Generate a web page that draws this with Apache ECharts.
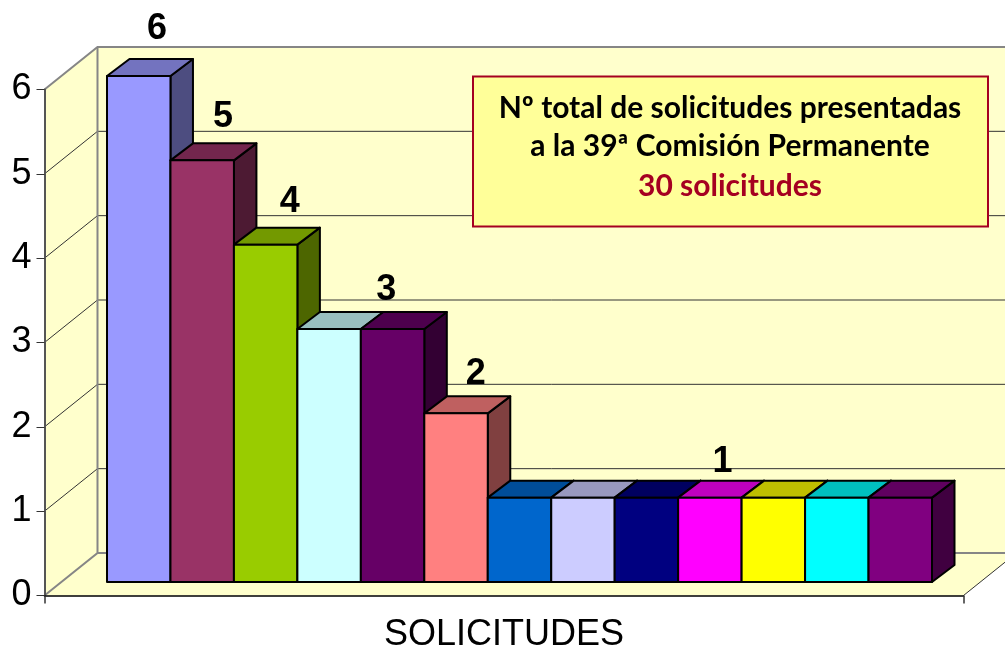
<!DOCTYPE html>
<html>
<head>
<meta charset="utf-8">
<title>Solicitudes</title>
<script src="https://cdn.jsdelivr.net/npm/echarts@6/dist/echarts.min.js"></script>
<style>
html, body { margin: 0; padding: 0; background: #fff; }
#main { width: 1005px; height: 648px; }
</style>
</head>
<body>
<div id="main"></div>
<script>
var categories = ['SOLICITUDES'];
var barValues = [6, 5, 4, 3, 3, 2, 1, 1, 1, 1, 1, 1, 1];
var barColors = ['#9999FF', '#993366', '#99CC00', '#CCFFFF', '#660066', '#FF8080', '#0066CC',
    '#CCCCFF', '#000080', '#FF00FF', '#FFFF00', '#00FFFF', '#800080'];
var yTicks = [0, 1, 2, 3, 4, 5, 6];
var labelValues = [6, 5, 4, 3, 2, 1];
var boxLines = ['Nº total de solicitudes presentadas', 'a la 39ª Comisión Permanente', '30 solicitudes'];

// label placement: position along the bar row (in bar widths) and lift above the bar front, px
var labelSlots = [0.79, 1.83, 2.88, 4.4, 5.81, 9.7];
var labelLift = [47, 43.5, 43, 39, 39.5, 36];

// 3d look: how far the walls and the bars go back
var WALL_DX = 53, WALL_DY = -42.5;
var BAR_DX = 22.5, BAR_DY = -17;

function shade(hex, k) {
    var n = parseInt(hex.slice(1), 16);
    var r = Math.round((n >> 16 & 255) * k);
    var g = Math.round((n >> 8 & 255) * k);
    var b = Math.round((n & 255) * k);
    return 'rgb(' + r + ',' + g + ',' + b + ')';
}

function renderWalls(params, api) {
    var box = params.coordSys;
    var l = box.x, r = box.x + box.width;
    var y0 = api.coord([categories[0], 0])[1];
    var y6 = api.coord([categories[0], 6])[1];
    var fill = { fill: '#FFFFCC', stroke: null };
    var border = { stroke: '#868686', lineWidth: 2, fill: null };
    var items = [
        { type: 'polygon', shape: { points: [[l + WALL_DX, y0 + WALL_DY], [r + WALL_DX, y0 + WALL_DY], [r + WALL_DX, y6 + WALL_DY], [l + WALL_DX, y6 + WALL_DY]] }, style: fill },
        { type: 'polygon', shape: { points: [[l, y0], [l + WALL_DX, y0 + WALL_DY], [l + WALL_DX, y6 + WALL_DY], [l, y6]] }, style: fill },
        { type: 'polygon', shape: { points: [[l, y0], [r, y0], [r + WALL_DX, y0 + WALL_DY], [l + WALL_DX, y0 + WALL_DY]] }, style: fill }
    ];
    yTicks.slice(1, 6).forEach(function (t) {
        var y = api.coord([categories[0], t])[1];
        items.push({ type: 'polyline', shape: { points: [[l, y], [l + WALL_DX, y + WALL_DY], [r + WALL_DX, y + WALL_DY]] }, style: { stroke: '#333', lineWidth: 1, fill: null } });
    });
    // outline of the walls
    items.push({ type: 'polyline', shape: { points: [[l, y6], [l + WALL_DX, y6 + WALL_DY], [r + WALL_DX, y6 + WALL_DY]] }, style: border });
    items.push({ type: 'polyline', shape: { points: [[l, y0], [l + WALL_DX, y0 + WALL_DY], [l + WALL_DX, y6 + WALL_DY]] }, style: border });
    items.push({ type: 'line', shape: { x1: l + WALL_DX, y1: y0 + WALL_DY, x2: r + WALL_DX, y2: y0 + WALL_DY }, style: border });
    items.push({ type: 'line', shape: { x1: r, y1: y0, x2: r + WALL_DX, y2: y0 + WALL_DY }, style: { stroke: '#333', lineWidth: 1 } });
    return { type: 'group', children: items };
}

function renderBar(params, api) {
    var i = api.value(0);
    var a = api.coord([i, api.value(1)]);
    var b = api.coord([i + 1, 0]);
    var line = { stroke: '#000', lineWidth: 2, lineJoin: 'round' };
    var color = barColors[i];
    return {
        type: 'group',
        children: [
            { type: 'polygon', shape: { points: [[b[0], a[1]], [b[0] + BAR_DX, a[1] + BAR_DY], [b[0] + BAR_DX, b[1] + BAR_DY], [b[0], b[1]]] }, style: Object.assign({ fill: shade(color, 0.5) }, line) },
            { type: 'polygon', shape: { points: [[a[0], a[1]], [a[0] + BAR_DX, a[1] + BAR_DY], [b[0] + BAR_DX, a[1] + BAR_DY], [b[0], a[1]]] }, style: Object.assign({ fill: shade(color, 0.75) }, line) },
            { type: 'rect', shape: { x: a[0], y: a[1], width: b[0] - a[0], height: b[1] - a[1] }, style: Object.assign({ fill: color }, line) }
        ]
    };
}

function renderLabel(params, api) {
    var i = params.dataIndex;
    var p = api.coord([api.value(0), api.value(1)]);
    return {
        type: 'text',
        x: p[0],
        y: p[1] - labelLift[i],
        style: {
            text: String(api.value(1)),
            font: 'bold 36px "Liberation Sans", Arial, sans-serif',
            fill: '#000',
            align: 'center',
            verticalAlign: 'middle'
        }
    };
}

var myChart = echarts.init(document.getElementById('main'), null, { renderer: 'canvas' });

var option = {
    animation: false,
    backgroundColor: '#fff',
    grid: [
        { left: 44.5, top: 89.5, width: 919, height: 506, outerBoundsMode: 'none' },
        { left: 107, top: 76, width: 825, height: 506, outerBoundsMode: 'none' }
    ],
    xAxis: [
        {
            type: 'category',
            gridIndex: 0,
            data: categories,
            z: 5,
            axisLine: { lineStyle: { color: '#000', width: 1.5 } },
            axisTick: { show: true, length: 8, alignWithLabel: false, lineStyle: { color: '#333', width: 1.5 } },
            axisLabel: { fontFamily: 'Liberation Sans', fontSize: 36, color: '#000', margin: 22 }
        },
        { type: 'value', gridIndex: 1, min: 0, max: barValues.length, show: false }
    ],
    yAxis: [
        {
            type: 'value',
            gridIndex: 0,
            min: 0,
            max: 6,
            interval: 1,
            z: 5,
            axisLine: { show: true, lineStyle: { color: '#555', width: 2 } },
            axisTick: { show: true, length: 8, lineStyle: { color: '#333', width: 1 } },
            axisLabel: { fontFamily: 'Liberation Sans', fontSize: 36, color: '#000', margin: 13, padding: [3, 0, 0, 0] },
            splitLine: { show: false }
        },
        { type: 'value', gridIndex: 1, min: 0, max: 6, show: false }
    ],
    series: [
        {
            type: 'custom',
            xAxisIndex: 0,
            yAxisIndex: 0,
            z: 1,
            clip: false,
            silent: true,
            data: [[categories[0], 0]],
            renderItem: renderWalls
        },
        {
            type: 'custom',
            xAxisIndex: 1,
            yAxisIndex: 1,
            z: 6,
            clip: false,
            silent: true,
            data: barValues.map(function (v, i) { return [i, v]; }),
            renderItem: renderBar
        },
        {
            type: 'custom',
            xAxisIndex: 1,
            yAxisIndex: 1,
            z: 7,
            clip: false,
            silent: true,
            data: labelValues.map(function (v, i) { return [labelSlots[i], v]; }),
            renderItem: renderLabel
        }
    ],
    graphic: [
        { type: 'rect', z: 20, shape: { x: 473, y: 76.5, width: 515, height: 150 }, style: { fill: '#FFFF99', stroke: '#A50021', lineWidth: 2 } },
        { type: 'text', z: 21, x: 730, y: 108, style: { text: boxLines[0], font: 'bold 30px Lato, sans-serif', fill: '#000', align: 'center', verticalAlign: 'middle' } },
        { type: 'text', z: 21, x: 730, y: 146, style: { text: boxLines[1], font: 'bold 30px Lato, sans-serif', fill: '#000', align: 'center', verticalAlign: 'middle' } },
        { type: 'text', z: 21, x: 730, y: 186, style: { text: boxLines[2], font: 'bold 30px Lato, sans-serif', fill: '#A50021', align: 'center', verticalAlign: 'middle' } }
    ]
};

option && myChart.setOption(option);
</script>
</body>
</html>
